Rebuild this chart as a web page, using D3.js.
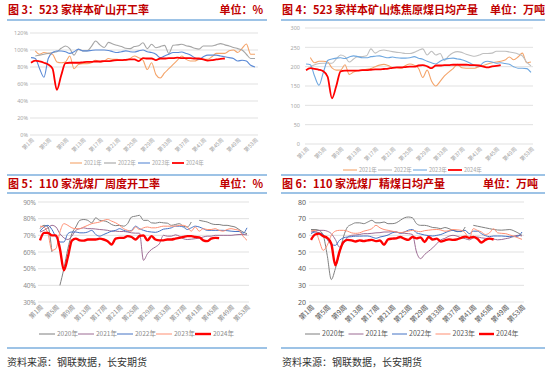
<!DOCTYPE html>
<html>
<head>
<meta charset="utf-8">
<script src="https://cdn.jsdelivr.net/npm/d3@7"></script>
<style>
  body { margin: 0; background: #fff; }
  text { font-family: "Noto Sans CJK SC", "Noto Sans", sans-serif; }
</style>
</head>
<body>
<svg id="chart" width="550" height="374"></svg>
<script>
// weeks / tick labels
var weeks = d3.range(1, 54);
var tickWeeks = [1, 5, 9, 13, 17, 21, 25, 29, 33, 37, 41, 45, 49, 53];

// 图3 523家样本矿山开工率 (%)
var mineRate2021 = [null, 99, 95, 97, 96, 95, 86, 85, 86, 93, 78, 83, 84, 84, 85, 88, 86, 87, 90, 89, 89, 88, 88, 90, 93, 91, 88, 77, 85, 71, 67, 73, 78, 83, 88, 93, 89, 87, 87, 89, 89, 89, 92, 96, 96, 96, 99, 100, 97, 102, 107, 95, 95];
var mineRate2022 = [null, 93, 94, 95, 96, 97, 98, 102, 104.7, 101.6, 94, 101, 99, 99, 104, 110.6, 106, 103, 109, 107, 105.5, 104, 102, 101.6, 104, 105, 108.6, 101.6, 106.7, 102.7, 104, 105.5, 96, 105.5, 106, 106.7, 105, 104, 102, 101, 104.7, 104.7, 104.7, 106, 107.5, 106, 104.7, 103, 101.6, 100, 95, 90, 90];
var mineRate2023 = [91, 90, 78, 68, 90, 97, 98.8, 98.8, 98, 96, 98, 100.8, 99, 99, 99.5, 100, 100, 100, 99.5, 98, 97, 98, 99, 98, 97.6, 99, 100, 98, 97, 95, 91, 93, 95, 97, 97, 97.6, 96, 94, 91, 89, 92, 94, 94, 94, 93, 92, 91, 90, 87, 88, 87, 82, 80];
var mineRate2024 = [85, 87.5, 86.5, 85, 83, 78, 53, 70, 84.5, 85, 85, 85, 85.5, 86, 86, 86.5, 86.5, 87, 87, 87.5, 88, 88, 88.5, 89, 89, 87, 90.5, 90, 90, 88, 90, 90, 90.5, 90.5, 91, 90.5, 90.5, 90.5, 90, 90, 89, 87.5, 88, 89, 89.5, 90];

// 图4 523家样本矿山炼焦原煤日均产量 (万吨)
var mineOutput2021 = [null, 224, 210, 214, 214, 212, 197, 191, 191, 205, 180, 186, 190, 191, 193, 195, 200, 204, 206, 203, 198, 197, 196, 203, 207, 204, 196, 172, 191, 163, 150, 162, 176, 186, 195, 206, 197, 196, 196, 196, 200, 203, 207, 210, 212, 214, 217, 225, 218, 225, 235, 210, 212];
var mineOutput2022 = [null, 200, 205, 208, 209, 209, 209, 220, 230, 226, 212, 220, 226, 226, 228, 246, 235, 241, 243, 241, 239, 237, 236, 234, 234, 237, 242, 246, 230, 240, 230, 234, 216, 228, 236, 239, 237, 232, 229, 227, 230, 234, 234, 235, 240, 240, 240, 238, 236, 233, 228, 212, 202];
var mineOutput2023 = [207, 205, 175, 152, 185, 216, 220, 222, 223, 221, 225, 228, 226, 223, 223, 226, 227, 228, 225, 223, 225, 223, 222, 222, 223, 226, 222, 219, 214, 210, 207, 214, 219, 221, 222, 220, 218, 214, 209, 203, 201, 211, 214, 212, 209, 210, 208, 206, 200, 196, 196, 195, 185];
var mineOutput2024 = [191, 196, 194, 192, 188, 174, 118, 150, 188, 190, 190, 190, 190, 191, 191, 192, 193, 193, 194, 195, 197, 198, 198, 199, 200, 200, 203, 204, 201, 196, 203, 203, 204, 204, 205, 205, 205, 205, 204, 204, 203, 200, 198, 201, 202, 204];

// 图5 110家洗煤厂周度开工率 (%)
var washRate2020 = [74, 76, 75, 60, null, 40, 50, 62, 71, 75, 79, 79.5, 79, 77.5, 80.5, 79, 78.7, 78, 76.5, 75.8, 76, 75.5, 77, 81, 81.5, 82, 79, 79, 77.5, 77.3, 77.8, 77.5, 77.3, 76, 76.5, 77, 75.5, 75, 78, null, 79, 78.5, 78, 77, 76.5, 76.5, 76, 76, 75.5, 75, 73.5, 72, 71];
var washRate2021 = [72, 73, 74.5, 76, 75, 71, 68.5, 67.5, 69.5, 73, 74, 74.5, 74, 74, 73.8, 73.5, 73.3, 73, 72.5, 72.5, 72.3, 72.3, 72, 71.5, 71.3, 71.3, 55, 59, 61.5, 63, 65, 70, 69.5, 69.5, 70.3, 69.5, 68, 67.5, 67.7, 68, 68.3, 69, 69.5, 69.5, 70, 70, 70, 70, 70, 70.3, 70.5, 70.5, 70.3];
var washRate2022 = [72.5, 75, 76, 73.5, 69, 66, 66, 71, 72, 72, 71.5, 71.5, 72, 73, 70.5, 69.5, 70.5, 71.5, 72.5, 73, 74, 73, 72.5, 73, 75.5, 74, 73, 72.3, 72, 71.8, 72.5, 73.7, 74, 74.5, 75.5, 75.5, 75, 73.5, 74.5, 75.5, 75, 74, 73, 73, 73, 73, 73, 72.8, 72.5, 72.3, 72.3, 71.3, 74.5];
var washRate2023 = [75.5, 75, 71, 61, 62, 72, 77, 76, 74.5, 74, 74, 75, 76, 77, 77.5, 78, 79, 79.5, 78.5, 77.5, 76, 74, 73, 72.5, 75, 73.5, 74.5, 75, 74.5, 74.5, 75, 75.5, 75.5, 75.5, 75.5, 76, 76, 75, 72.5, 75, 72.5, 74, 73.5, 73.5, 74, 73, 72.5, 73.5, 74, 73.5, 73, 69.5, 67];
var washRate2024 = [67, 71.5, 71.5, 70, 70, 62, 49, 57, 66.8, 68, 67, 66.8, 67.5, 67.5, 67.5, 68, 67.5, 66.5, 64.5, 68, 68.5, 68.5, 69.5, 69, 67.5, 69.6, 70, 67, 69.5, 67.5, 67, 67, 67.5, 67.5, 68, 68.5, 69, 69.5, 69.5, 69, 68.8, 67, 66.5, 68, 68.5, 68.3];

// 图6 110家洗煤厂精煤日均产量 (万吨)
var washOutput2020 = [63.5, 63.5, 63, 60, 48, 33.5, 40, 49, 59, 65, 66.5, 67.5, 67.5, 67, 68, 69, 67.5, 67.5, 68, 67, 67, 67.5, 69, 70.5, 71, 70.5, 67, 66, 66, 65.5, 64.7, 64.5, 64, 64.7, 64, 63, 62.5, 62.2, 65, null, 66, 65.5, 65, 64.5, 64, 63.5, 63.2, 63.1, 63.3, 63.5, 62.7, 61.5, 60];
var washOutput2021 = [62, 62.5, 63, 63, 62.5, 61, 57.5, 53, 55, 59, 60, 60.2, 60.5, 61, 61, 61.2, 61.5, 61.6, 62, 62, 62.2, 62, 61.5, 61.2, 61, 60.5, 50, 46, 48.5, 50.5, 52.5, 55, 57.3, 58.2, 59.5, 60, 59.5, 58.5, 58, 57.3, 58.5, 59, 58.5, 58.2, 58, 57.8, 57.3, 57.5, 58, 58.5, 59.5, 60, 59.6];
var washOutput2022 = [61, 62, 61.5, 60.5, 57.5, 54.5, 54, 57, 58.5, 59, 59.2, 59.5, 59.5, 59.6, 59.6, 59, 58.2, 59, 59.5, 60.2, 61.5, 62, 61.2, 62, 63.1, 63.5, 61.5, 60.8, 60.2, 59.8, 59.6, 60, 60.5, 61.5, 62.5, 63, 62.2, 62.5, 63, 61, 62.5, 62.5, 61, 59.8, 59.2, 59.6, 59.6, 59.6, 59.4, 59.2, 59.2, 59.5, 62];
var washOutput2023 = [62.7, 63, 57, 51, 54, 60, 62.5, 63, 63, 62.5, 61.5, 61.2, 61.5, 62.5, 63.1, 64, 66, 64.5, 63.5, 63, 62.5, 62, 61.6, 62, 62.5, 63, 62.5, 62.2, 62.8, 63.1, 63.4, 63.5, 63.2, 62.5, 62.8, 63.5, 63.3, 63, 61.5, 58, 64, 63, 62, 60.5, 61.5, 64, 61.5, 61.2, 61, 60.2, 59.5, 58.5, 57.6];
var washOutput2024 = [57.3, 60.5, 61, 59.5, 58.5, 55, 42, 50, 56, 57.3, 57, 56.3, 57, 56.5, 57, 57.3, 56.5, 56.9, 54.3, 57.6, 58, 58.2, 59, 58, 57.3, 59, 58.2, 58.8, 56, 59, 57.5, 58, 56.3, 57, 57.6, 57.3, 57.6, 58.5, 59.2, 58.5, 59, 58, 55.7, 57.3, 58, 57.5];

var svg = d3.select("#chart");
var titleRed = "#c00000",
	sepBlue = "#9dc3e6";

// separator lines
var seps = [
	[7, 267, 20], [281, 545, 20],
	[7, 267, 175], [281, 545, 175],
	[7, 267, 193], [281, 545, 193],
	[7, 267, 348], [281, 545, 348]
];
svg.selectAll(".sep").data(seps).enter().append("line")
	.attr("class", "sep")
	.attr("x1", function(d){ return d[0]; })
	.attr("x2", function(d){ return d[1]; })
	.attr("y1", function(d){ return d[2]; })
	.attr("y2", function(d){ return d[2]; })
	.style("stroke", sepBlue)
	.style("stroke-width", 2);

function drawPanel(p){
	var g = svg.append("g");

	//head
	g.append("text")
		.attr("x", p.titleX).attr("y", p.titleY)
		.text(p.title)
		.style("fill", titleRed).style("font-weight", "bold").style("font-size", "11px");
	g.append("text")
		.attr("x", p.unitX).attr("y", p.titleY)
		.attr("text-anchor", "end")
		.text(p.unit)
		.style("fill", titleRed).style("font-weight", "bold").style("font-size", "11px");

	var x = d3.scalePoint().domain(weeks).range([p.dataX0, p.dataX1]);
	var y = d3.scaleLinear().domain(p.yDomain).range([p.yBottom, p.yTop]);

	//grid
	var yTicks = d3.range(p.yDomain[0], p.yDomain[1] + 0.001, p.yStep);
	g.selectAll(".grid").data(yTicks).enter().append("line")
		.attr("x1", p.gridX0).attr("x2", p.gridX1)
		.attr("y1", function(d){ return y(d); })
		.attr("y2", function(d){ return y(d); })
		.style("stroke", "#d9d9d9").style("stroke-width", 0.8);

	//y axis labels
	var yAxis = d3.axisLeft(y).tickValues(yTicks).tickSize(0).tickPadding(0)
		.tickFormat(p.yFormat);
	var ya = g.append("g").attr("transform", "translate(" + p.yLabelX + ",0)").call(yAxis);
	ya.select(".domain").remove();
	ya.selectAll("text").style("fill", p.tickColor).style("font-size", p.tickFont + "px")
		.style("font-family", "'Noto Sans', sans-serif");

	//x axis labels
	g.selectAll(".xl").data(tickWeeks).enter().append("text")
		.attr("transform", function(d){
			return "translate(" + (x(d) + 2) + "," + (p.yBottom + 4) + ") rotate(-45)";
		})
		.attr("text-anchor", "end")
		.attr("dy", "0.35em")
		.text(function(d){ return "第" + d + "周"; })
		.style("fill", p.tickColor).style("font-size", p.tickFont + "px");

	//lines
	var line = d3.line()
		.defined(function(d){ return d != null; })
		.x(function(d, i){ return x(weeks[i]); })
		.y(function(d){ return y(d); })
		.curve(d3.curveMonotoneX);

	p.series.forEach(function(s){
		g.append("path")
			.datum(s.values)
			.attr("d", line)
			.style("fill", "none")
			.style("stroke", s.color)
			.style("stroke-width", s.width)
			.style("stroke-linejoin", "round");
	});

	//legend
	p.series.forEach(function(s, k){
		var lx = p.legendX + k * p.legendStep;
		g.append("line")
			.attr("x1", lx).attr("x2", lx + p.legendLine)
			.attr("y1", p.legendY).attr("y2", p.legendY)
			.style("stroke", s.color).style("stroke-width", s.width);
		g.append("text")
			.attr("x", lx + p.legendLine + 2).attr("y", p.legendY)
			.attr("dy", "0.35em")
			.text(s.name)
			.style("fill", p.tickColor).style("font-size", p.legendFont + "px");
	});
}

var pct = function(d){ return d + "%"; };

drawPanel({
	title: "图 3：523 家样本矿山开工率", unit: "单位：%",
	titleX: 8, unitX: 263, titleY: 14,
	gridX0: 30, gridX1: 258, dataX0: 31, dataX1: 255,
	yDomain: [0, 120], yStep: 20, yBottom: 135, yTop: 33, yFormat: pct,
	yLabelX: 28, tickColor: "#a6a6a6", tickFont: 5.5,
	legendX: 70, legendY: 163, legendStep: 34, legendLine: 12, legendFont: 5.5,
	series: [
		{name: "2021年", values: mineRate2021, color: "#f4a46a", width: 1.1},
		{name: "2022年", values: mineRate2022, color: "#a5a5a5", width: 1.1},
		{name: "2023年", values: mineRate2023, color: "#5b8ad6", width: 1.1},
		{name: "2024年", values: mineRate2024, color: "#ff0000", width: 1.8}
	]
});

drawPanel({
	title: "图 4：523 家样本矿山炼焦原煤日均产量", unit: "单位：万吨",
	titleX: 282, unitX: 545, titleY: 14,
	gridX0: 305, gridX1: 533, dataX0: 306, dataX1: 531,
	yDomain: [0, 300], yStep: 50, yBottom: 144, yTop: 28, yFormat: d3.format("d"),
	yLabelX: 300, tickColor: "#a6a6a6", tickFont: 5.5,
	legendX: 343, legendY: 170, legendStep: 35, legendLine: 14, legendFont: 5.5,
	series: [
		{name: "2021年", values: mineOutput2021, color: "#f4a46a", width: 1.1},
		{name: "2022年", values: mineOutput2022, color: "#bfbfbf", width: 1.1},
		{name: "2023年", values: mineOutput2023, color: "#6fa8e0", width: 1.1},
		{name: "2024年", values: mineOutput2024, color: "#ff0000", width: 1.8}
	]
});

drawPanel({
	title: "图 5：110 家洗煤厂周度开工率", unit: "单位：%",
	titleX: 8, unitX: 263, titleY: 188,
	gridX0: 38, gridX1: 249, dataX0: 40, dataX1: 247,
	yDomain: [30, 90], yStep: 10, yBottom: 302, yTop: 202, yFormat: pct,
	yLabelX: 36, tickColor: "#8c8c8c", tickFont: 6.5,
	legendX: 39, legendY: 334, legendStep: 39, legendLine: 16, legendFont: 6.5,
	series: [
		{name: "2020年", values: washRate2020, color: "#7f7f7f", width: 1},
		{name: "2021年", values: washRate2021, color: "#9c6b93", width: 1},
		{name: "2022年", values: washRate2022, color: "#4472c4", width: 1},
		{name: "2023年", values: washRate2023, color: "#ff8f73", width: 1},
		{name: "2024年", values: washRate2024, color: "#ff0000", width: 2.4}
	]
});

drawPanel({
	title: "图 6：110 家洗煤厂精煤日均产量", unit: "单位：万吨",
	titleX: 282, unitX: 538, titleY: 188,
	gridX0: 309, gridX1: 524, dataX0: 311, dataX1: 522,
	yDomain: [20, 80], yStep: 10, yBottom: 302, yTop: 202, yFormat: d3.format("d"),
	yLabelX: 306, tickColor: "#595959", tickFont: 7,
	legendX: 305, legendY: 334, legendStep: 43.5, legendLine: 15, legendFont: 7,
	series: [
		{name: "2020年", values: washOutput2020, color: "#7f7f7f", width: 1},
		{name: "2021年", values: washOutput2021, color: "#9c6b93", width: 1},
		{name: "2022年", values: washOutput2022, color: "#4472c4", width: 1},
		{name: "2023年", values: washOutput2023, color: "#ff8f73", width: 1},
		{name: "2024年", values: washOutput2024, color: "#ff0000", width: 2.4}
	]
});

// source
svg.selectAll(".src").data([7, 282]).enter().append("text")
	.attr("x", function(d){ return d; })
	.attr("y", 366)
	.text("资料来源：钢联数据，长安期货")
	.style("fill", "#333").style("font-size", "10px");
</script>
</body>
</html>
